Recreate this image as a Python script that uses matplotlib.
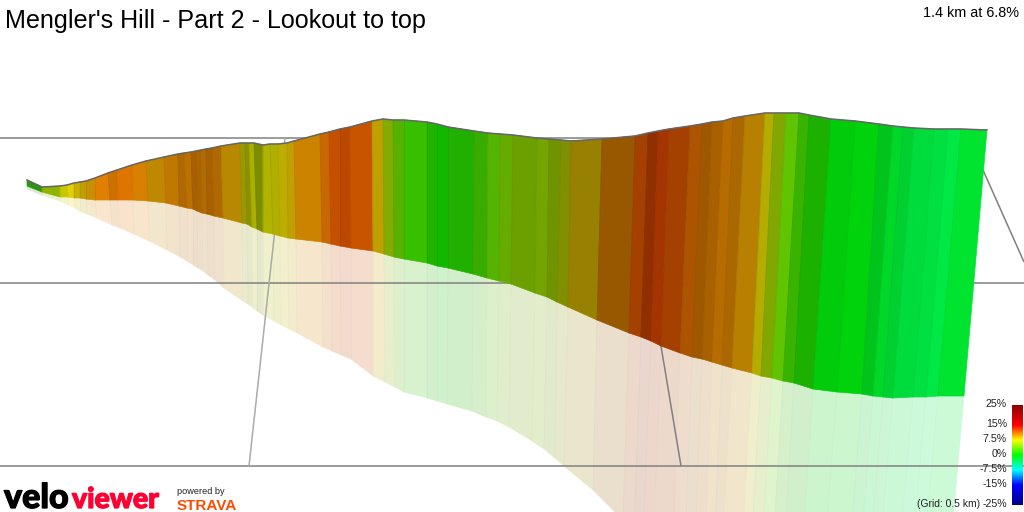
import matplotlib
matplotlib.use("Agg")
import matplotlib.pyplot as plt
import matplotlib.patheffects as pe
from matplotlib.colors import LinearSegmentedColormap, to_rgb
import numpy as np

# road edge, verge edge and ground edge of each strip boundary, in scene units
top_x = [27, 42, 60, 67, 74, 80, 86, 95, 108, 117, 132, 146, 164, 178, 184, 191, 196, 201, 206, 212, 221,
         240, 245, 249, 254, 263, 270, 278, 287, 294, 320, 329, 340, 350, 372, 383, 393, 404, 427, 437, 448,
         474, 488, 500, 513, 537, 549, 561, 571, 602, 635, 648, 658, 669, 690, 702, 712, 723, 733, 745,
         765, 774, 786, 799, 809, 831, 855, 879, 893, 903, 914, 934, 948, 961, 987]
top_y = [180, 187, 186, 185, 183, 182, 181, 178, 173, 170, 165, 161, 157, 154, 153, 152, 151, 150, 149, 148, 146,
         143, 143, 143, 143, 145, 144, 144, 143, 141, 134, 132, 129, 127, 121, 119, 120, 120, 122, 124, 127,
         131, 133, 134, 135, 138, 139, 140, 141, 139, 136, 133, 131, 129, 126, 124, 122, 121, 118, 116,
         113, 113, 113, 113, 115, 119, 121, 124, 126, 127, 128, 129, 129, 129, 130]
side_x = [27, 42, 60, 68, 74, 80, 86, 95, 110, 118, 133, 148, 166, 179, 187, 193, 197, 202, 207, 214, 223,
          242, 247, 252, 257, 263, 273, 280, 288, 296, 322, 331, 340, 351, 373, 384, 394, 404, 427, 437, 448,
          473, 487, 499, 511, 535, 547, 557, 568, 597, 629, 641, 651, 661, 680, 692, 702, 712, 722, 732,
          752, 761, 772, 783, 794, 813, 837, 862, 873, 883, 893, 913, 926, 938, 964]
side_y = [186, 192, 197, 197, 198, 198, 199, 200, 200, 200, 200, 201, 203, 206, 208, 209, 211, 213, 214, 216, 218,
          223, 224, 227, 229, 232, 234, 236, 238, 239, 242, 244, 246, 248, 251, 254, 257, 259, 263, 266, 268,
          274, 278, 281, 284, 293, 297, 302, 307, 320, 333, 337, 341, 346, 353, 357, 359, 362, 365, 368,
          373, 376, 378, 381, 383, 389, 392, 394, 396, 397, 398, 397, 397, 396, 396]
floor_x = [27, 42, 60, 68, 75, 81, 87, 97, 112, 120, 134, 149, 167, 180, 187, 193, 198, 203, 208, 215, 224,
           243, 248, 252, 257, 263, 274, 281, 289, 297, 323, 332, 341, 351, 373, 385, 395, 404, 427, 437, 447,
           472, 486, 497, 509, 532, 544, 555, 564, 593, 623, 634, 643, 653, 672, 683, 693, 703, 712, 719,
           739, 748, 759, 770, 781, 799, 821, 846, 857, 866, 876, 895, 908, 920, 946]
floor_y = [189, 195, 201, 205, 208, 212, 214, 218, 225, 228, 234, 241, 250, 257, 261, 265, 268, 271, 275, 280, 288,
           301, 304, 307, 311, 315, 321, 325, 329, 333, 347, 351, 355, 359, 376, 382, 387, 392, 398, 401, 404,
           411, 417, 421, 427, 441, 449, 458, 466, 490, 520, 532, 540, 552, 570, 600, 600, 600, 600, 600,
           600, 600, 600, 600, 600, 600, 600, 600, 600, 600, 600, 600, 600, 600, 600]

# strip colours, left to right
strip_colors = ["#2C9612", "#8FB400", "#C8C800", "#E0D000", "#CCB000", "#C0A000", "#C89000", "#E08000", "#CC7000",
                "#E07400", "#D88000", "#C08800", "#C07800", "#B06800", "#BC7000", "#A86000", "#AC6400", "#B06C00",
                "#A86000", "#B06800", "#B88800", "#989800", "#8C9000", "#A8B000", "#7D8D00", "#B0B400", "#B0AE00",
                "#BCAE00", "#C0A000", "#CC8400", "#C86800", "#C45000", "#BC4800", "#C85400", "#C0A000", "#84AC00",
                "#58B000", "#38C000", "#20B400", "#10B800", "#20B000", "#38AC00", "#54B400", "#64AC00", "#6CA000",
                "#74A400", "#709400", "#809000", "#988000", "#985800", "#A44000", "#903000", "#A43400", "#A44000",
                "#AC5400", "#A05800", "#A86000", "#B86C00", "#AC6800", "#B88000", "#B4AC00", "#80A800", "#60C400",
                "#38B400", "#1CB000", "#00CC0C", "#00D20C", "#00C41C", "#00D828", "#00D030", "#00DC3C", "#00E040",
                "#00E844", "#00E430"]

# grid lines as (x0, y0, x1, y1, colour)
grid_lines = [(0, 138, 700, 138, "#808080"), (0, 283, 1024, 283, "#808080"), (0, 466, 1024, 466, "#808080"),
              (285, 138, 249, 466, "#aaaaaa"), (661, 346, 681, 466, "#808080"), (983, 170, 1024, 262, "#808080")]

grade_stops = [-25, -15, -7.5, 0, 7.5, 15, 25]
grade_colors = ["#00008B", "#0000FF", "#00FFFF", "#00FF00", "#FFFF00", "#FF0000", "#8B0000"]
grade_labels = ["25%", "15%", "7.5%", "0%", "-7.5%", "-15%", "-25%"]
label_rows = [404, 424, 439, 454, 469, 484, 504]

title = "Mengler's Hill - Part 2 - Lookout to top"
summary = "1.4 km at 6.8%"

plt.rcParams['font.family'] = ['Liberation Sans', 'DejaVu Sans']

fig = plt.figure(figsize=(10.24, 5.12), dpi=100)
ax = fig.add_axes([0, 0, 1, 1])


def pale(c, a=0.2):
    # strip colour washed out over white, for the ground reflection
    return tuple(1 - a * (1 - v) for v in to_rgb(c))


for i, c in enumerate(strip_colors):
    ax.fill([side_x[i], side_x[i + 1], floor_x[i + 1], floor_x[i]],
            [side_y[i], side_y[i + 1], floor_y[i + 1], floor_y[i]],
            facecolor=pale(c), edgecolor=pale(c), lw=0.4, zorder=1)

for x0, y0, x1, y1, c in grid_lines:
    ax.plot([x0, x1], [y0, y1], color=c, lw=1.1, zorder=2, solid_capstyle='butt')

for i, c in enumerate(strip_colors):
    ax.fill([top_x[i], top_x[i + 1], side_x[i + 1], side_x[i]],
            [top_y[i], top_y[i + 1], side_y[i + 1], side_y[i]],
            facecolor=c, edgecolor=c, lw=0.5, zorder=3)

# thin seams between strips
for i in range(1, len(top_x) - 1):
    ax.plot([top_x[i], side_x[i]], [top_y[i], side_y[i]], color='k', alpha=0.06, lw=0.7, zorder=4)
    ax.plot([side_x[i], floor_x[i]], [side_y[i], floor_y[i]], color='k', alpha=0.02, lw=0.7, zorder=1.5)

ax.plot(top_x, top_y, color="#666666", lw=1.1, zorder=5)

# gradient key
cmap = LinearSegmentedColormap.from_list(
    "grade", [((g + 25) / 50, c) for g, c in zip(grade_stops, grade_colors)])
ramp = np.linspace(1, 0, 256).reshape(-1, 1)
ax.imshow(ramp, cmap=cmap, vmin=0, vmax=1, extent=(1012, 1023, 505, 405), aspect='auto', zorder=6)
for lab, row in zip(grade_labels, label_rows):
    ax.text(1007, row, lab, ha='right', va='center', fontsize=7.7, color='#222222', zorder=7)
ax.text(980, 504, "(Grid: 0.5 km)", ha='right', va='center', fontsize=7.4, color='#222222', zorder=7)

ax.text(5, 28, title, ha='left', va='baseline', fontsize=18.1, color='black', zorder=7)
ax.text(1019, 17, summary, ha='right', va='baseline', fontsize=10.4, color='black', zorder=7)

# branding along the bottom edge
thick = [pe.withStroke(linewidth=0.9, foreground='black')]
ax.text(4, 508, "velo", ha='left', va='baseline', fontsize=24.5, family=['Lato', 'DejaVu Sans'],
        fontweight=900, color='black', path_effects=thick, zorder=7)
thick = [pe.withStroke(linewidth=0.9, foreground='#FF0033')]
ax.text(72, 508, "viewer", ha='left', va='baseline', fontsize=20.5, family=['Lato', 'DejaVu Sans'],
        fontweight=900, color='#FF0033', path_effects=thick, zorder=7)
ax.text(177, 494, "powered by", ha='left', va='baseline', fontsize=6.6, color='#222222', zorder=7)
ax.text(176.5, 510, "STRAVA", ha='left', va='baseline', fontsize=11, fontweight='bold', color='#FC4C02', zorder=7)

ax.set_xlim(0, 1024)
ax.set_ylim(512, 0)
ax.axis('off')

fig.savefig("out.png", dpi=100)
